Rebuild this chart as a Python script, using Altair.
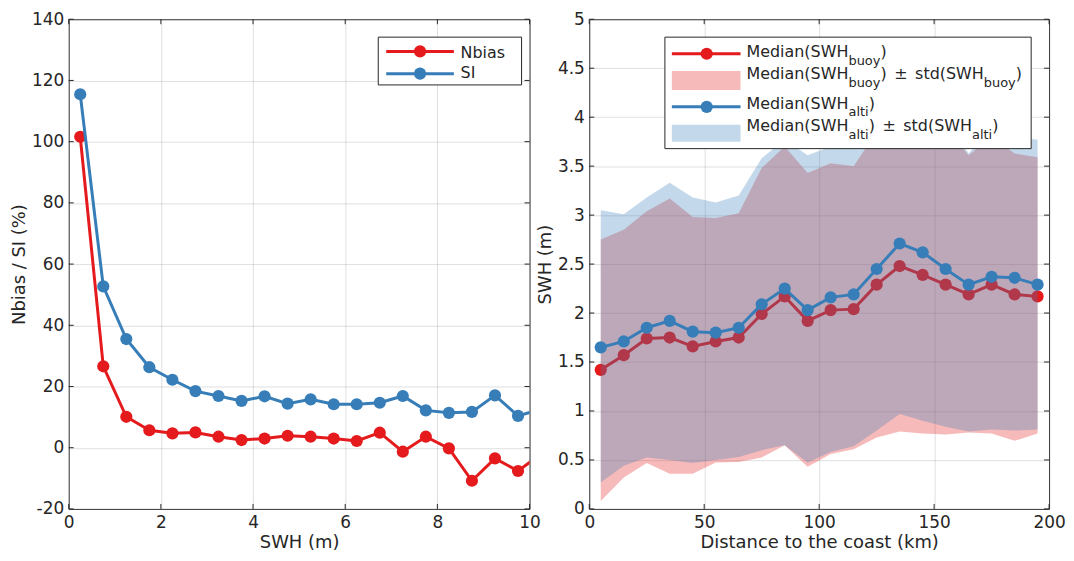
import altair as alt
import pandas as pd

FONT = "DejaVu Sans"
RED = "#E41A1C"
BLUE = "#377EB8"
INK = "#262626"

# ---------------- Left panel data ----------------
swh_bins = [0.25, 0.75, 1.25, 1.75, 2.25, 2.75, 3.25, 3.75, 4.25, 4.75, 5.25,
            5.75, 6.25, 6.75, 7.25, 7.75, 8.25, 8.75, 9.25, 9.75, 10.25]
nbias = [101.6, 26.6, 10.1, 5.7, 4.7, 5.0, 3.6, 2.5, 3.0, 3.9, 3.6,
         3.0, 2.2, 4.9, -1.3, 3.6, -0.2, -10.8, -3.5, -7.6, -2.0]
si = [115.5, 52.7, 35.5, 26.3, 22.2, 18.5, 16.9, 15.3, 16.8, 14.4, 15.8,
      14.2, 14.2, 14.7, 16.9, 12.2, 11.4, 11.7, 17.1, 10.4, 12.6]
left_xticks = [0, 2, 4, 6, 8, 10]
left_yticks = [-20, 0, 20, 40, 60, 80, 100, 120, 140]
left_labels = ["Nbias", "SI"]

# ---------------- Right panel data ----------------
dist_km = [5, 15, 25, 35, 45, 55, 65, 75, 85, 95,
           105, 115, 125, 135, 145, 155, 165, 175, 185, 195]
buoy_med = [1.42, 1.57, 1.74, 1.75, 1.66, 1.71, 1.75, 1.99, 2.17, 1.92,
            2.03, 2.04, 2.29, 2.48, 2.39, 2.29, 2.19, 2.29, 2.19, 2.17]
buoy_lo = [0.08, 0.32, 0.47, 0.36, 0.36, 0.475, 0.48, 0.525, 0.65, 0.43,
           0.56, 0.61, 0.73, 0.79, 0.77, 0.76, 0.78, 0.77, 0.695, 0.77]
buoy_hi = [2.75, 2.85, 3.04, 3.17, 2.98, 2.97, 3.02, 3.48, 3.70, 3.43,
           3.53, 3.50, 3.85, 4.15, 4.00, 3.90, 3.61, 3.80, 3.63, 3.59]
alti_med = [1.65, 1.71, 1.85, 1.92, 1.81, 1.80, 1.85, 2.09, 2.25, 2.03,
            2.16, 2.19, 2.45, 2.71, 2.62, 2.45, 2.29, 2.37, 2.36, 2.29]
alti_lo = [0.27, 0.44, 0.525, 0.50, 0.47, 0.50, 0.53, 0.60, 0.65, 0.475,
           0.58, 0.64, 0.80, 0.97, 0.90, 0.84, 0.79, 0.81, 0.80, 0.81]
alti_hi = [3.05, 3.01, 3.18, 3.33, 3.18, 3.13, 3.20, 3.58, 3.77, 3.61,
           3.70, 3.75, 4.00, 4.30, 4.15, 4.00, 3.63, 3.90, 3.80, 3.77]
right_xticks = [0, 50, 100, 150, 200]
right_yticks = [0, 0.5, 1, 1.5, 2, 2.5, 3, 3.5, 4, 4.5, 5]

# ---------------- Layout / style ----------------
LW, LH = 463, 492
RW, RH = 462, 492
TICK = 5
MAIN_FS, SUB_FS, SUB_DY = 16, 13, 8
PM_GAP = 2.5
MS = 150

# DejaVu Sans advance widths (units per em = 2048)
ADV = {'M': 1767, 'e': 1260, 'd': 1300, 'i': 569, 'a': 1255, 'n': 1298, '(': 799,
       ')': 799, 'S': 1300, 'W': 2025, 'H': 1540, ' ': 651, '±': 1716, 's': 1067,
       't': 803, 'b': 1300, 'u': 1298, 'o': 1253, 'y': 1212, 'l': 569, 'N': 1532,
       'I': 604}


def tw(s, fs):
    return sum(ADV.get(c, 1250) for c in s) / 2048.0 * fs


SPACE = tw(" ", MAIN_FS)
one = pd.DataFrame({"k": [0]})


def ax(values, title, orient):
    common = dict(values=values, title=title, grid=True, gridColor=INK, gridOpacity=0.15,
                  ticks=False, tickSize=0, domain=False, labelFont=FONT, labelFontSize=17,
                  labelColor=INK, titleFont=FONT, titleFontSize=18, titleFontWeight="normal",
                  titleColor=INK, labelExpr="datum.value + ''", labelFlush=False,
                  labelOverlap=False)
    if orient == "x":
        return alt.Axis(labelPadding=6, titlePadding=3, **common)
    return alt.Axis(labelPadding=5, titlePadding=3, **common)


def ticks_layers(xfield, yfield, xt, yt, w, h):
    xdf = pd.DataFrame({xfield: xt})
    ydf = pd.DataFrame({yfield: yt})
    out = []
    for y0, y1 in [(h, h - TICK), (0, TICK)]:
        out.append(alt.Chart(xdf).mark_rule(color=INK, strokeWidth=1).encode(
            x=f"{xfield}:Q", y=alt.value(y0), y2=alt.value(y1)))
    for x0, x1 in [(0, TICK), (w, w - TICK)]:
        out.append(alt.Chart(ydf).mark_rule(color=INK, strokeWidth=1).encode(
            y=f"{yfield}:Q", x=alt.value(x0), x2=alt.value(x1)))
    return out


def text_layers(parts, x0, y0):
    """parts: (text, is_subscript, extra_gap_after)"""
    out = []
    x = x0
    for text, sub, gap in parts:
        fs = SUB_FS if sub else MAIN_FS
        out.append(alt.Chart(one).mark_text(text=text, font=FONT, fontSize=fs, align="left",
                                            baseline="alphabetic", color=INK).encode(
            x=alt.value(x), y=alt.value(y0 + (SUB_DY if sub else 0))))
        x += tw(text, fs) + gap
    return out


def legend_line(color, x0, x1, y, xm):
    return [
        alt.Chart(one).mark_rule(color=color, strokeWidth=3).encode(
            x=alt.value(x0), x2=alt.value(x1), y=alt.value(y)),
        alt.Chart(one).mark_circle(color=color, opacity=1, size=MS).encode(
            x=alt.value(xm), y=alt.value(y)),
    ]


def legend_box(x0, x1, y0, y1):
    return alt.Chart(one).mark_rect(fill="white", stroke=INK, strokeWidth=1).encode(
        x=alt.value(x0), x2=alt.value(x1), y=alt.value(y0), y2=alt.value(y1))


def band_label(sub):
    return [("Median(SWH", 0, 0), (sub, 1, 0), (")", 0, SPACE + PM_GAP),
            ("±", 0, SPACE + PM_GAP), ("std(SWH", 0, 0), (sub, 1, 0), (")", 0, 0)]


def med_label(sub):
    return [("Median(SWH", 0, 0), (sub, 1, 0), (")", 0, 0)]


# ---------------- Left chart ----------------
xl = alt.X("swh:Q", scale=alt.Scale(domain=[0, 10], nice=False, zero=False),
           axis=ax(left_xticks, "SWH (m)", "x"))
yl = alt.Y("val:Q", scale=alt.Scale(domain=[-20, 140], nice=False, zero=False),
           axis=ax(left_yticks, "Nbias / SI (%)", "y"))

left_layers = []
for series, color in [(nbias, RED), (si, BLUE)]:
    df = pd.DataFrame({"swh": swh_bins, "val": series})
    left_layers.append(alt.Chart(df).mark_line(color=color, strokeWidth=3, clip=True).encode(x=xl, y=yl))
    left_layers.append(alt.Chart(df).mark_circle(color=color, opacity=1, size=MS, clip=True).encode(x=xl, y=yl))

left_layers += ticks_layers("swh", "val", left_xticks, left_yticks, LW, LH)
left_layers.append(legend_box(311, 455, 18, 66))
left_layers += legend_line(RED, 319, 387, 32.3, 353)
left_layers += legend_line(BLUE, 319, 387, 54.7, 353)
left_layers += text_layers([(left_labels[0], 0, 0)], 393.7, 39)
left_layers += text_layers([(left_labels[1], 0, 0)], 393.7, 59.5)

left = alt.layer(*left_layers).properties(width=LW, height=LH)

# ---------------- Right chart ----------------
xr = alt.X("dist:Q", scale=alt.Scale(domain=[0, 200], nice=False, zero=False),
           axis=ax(right_xticks, "Distance to the coast (km)", "x"))
yr = alt.Y("med:Q", scale=alt.Scale(domain=[0, 5], nice=False, zero=False),
           axis=ax(right_yticks, "SWH (m)", "y"))

bdf = pd.DataFrame({"dist": dist_km, "med": buoy_med, "lo": buoy_lo, "hi": buoy_hi})
adf = pd.DataFrame({"dist": dist_km, "med": alti_med, "lo": alti_lo, "hi": alti_hi})

right_layers = [
    alt.Chart(bdf).mark_line(color=RED, strokeWidth=3).encode(x=xr, y=yr),
    alt.Chart(bdf).mark_circle(color=RED, opacity=1, size=MS).encode(x=xr, y=yr),
    alt.Chart(bdf).mark_area(color=RED, opacity=0.3).encode(x=xr, y=alt.Y("lo:Q"), y2="hi:Q"),
    alt.Chart(adf).mark_area(color=BLUE, opacity=0.3).encode(x=xr, y=alt.Y("lo:Q"), y2="hi:Q"),
    alt.Chart(adf).mark_line(color=BLUE, strokeWidth=3).encode(x=xr, y=yr),
    alt.Chart(adf).mark_circle(color=BLUE, opacity=1, size=MS).encode(x=xr, y=yr),
]
right_layers += ticks_layers("dist", "med", right_xticks, right_yticks, RW, RH)

right_layers.append(legend_box(76, 444, 18, 130))
right_layers += legend_line(RED, 83, 152, 34.7, 118)
right_layers.append(alt.Chart(one).mark_rect(fill=RED, opacity=0.3).encode(
    x=alt.value(83), x2=alt.value(152), y=alt.value(52), y2=alt.value(71)))
right_layers += legend_line(BLUE, 83, 152, 88, 118)
right_layers.append(alt.Chart(one).mark_rect(fill=BLUE, opacity=0.3).encode(
    x=alt.value(83), x2=alt.value(152), y=alt.value(106), y2=alt.value(123)))

TX = 158
right_layers += text_layers(med_label("buoy"), TX, 37.7)
right_layers += text_layers(band_label("buoy"), TX, 60.3)
right_layers += text_layers(med_label("alti"), TX, 89.7)
right_layers += text_layers(band_label("alti"), TX, 112.3)

right = alt.layer(*right_layers).properties(width=RW, height=RH)

chart = alt.hconcat(left, right, spacing=60).properties(
    bounds="flush",
    padding={"left": 2, "top": 0, "right": 0, "bottom": 0},
    background="white",
).configure_view(stroke="#3a3a3a", strokeWidth=1)

chart.save("out.html", embed_options={"renderer": "svg", "actions": False})
